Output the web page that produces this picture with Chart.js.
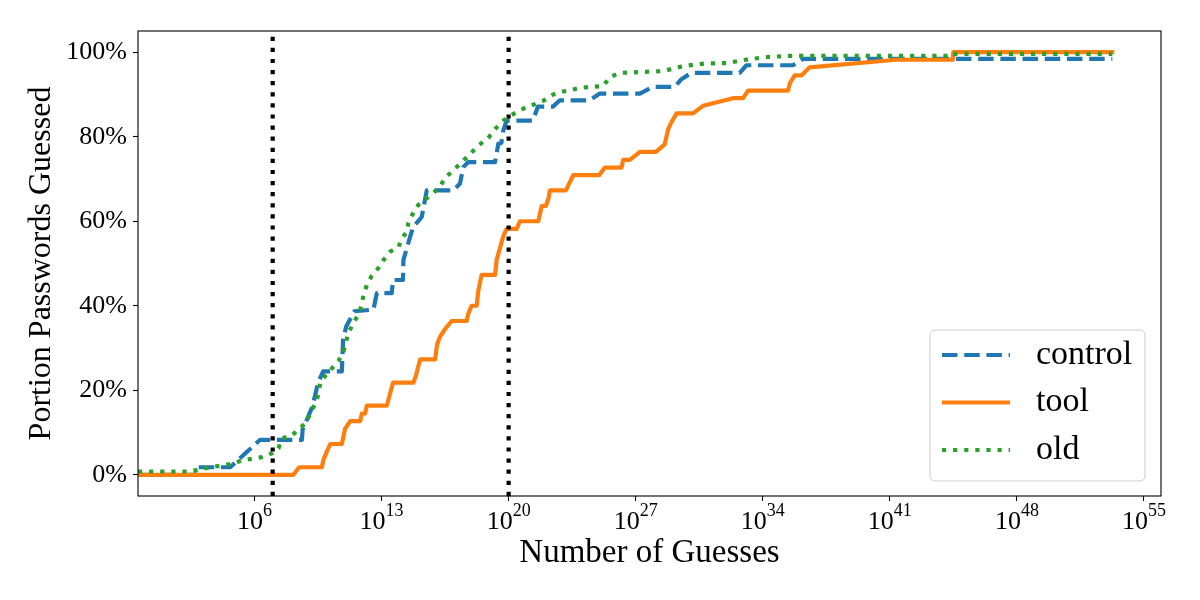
<!DOCTYPE html>
<html>
<head>
<meta charset="utf-8">
<script src="https://cdn.jsdelivr.net/npm/chart.js@4"></script>
<style>
  body { margin: 0; background: #fff; }
  #chart { display: block; }
</style>
</head>
<body>
<canvas id="chart" width="1200" height="600"></canvas>
<script>
// values: x as log10(guesses), y as percent guessed
const controlExp = [-0.42, 2.74, 2.85, 4.66, 6.31, 8.61, 8.65, 8.9, 9.2, 9.5, 9.78, 10.81, 10.88, 11.05, 11.5, 12.55, 12.74, 13.56, 13.63, 14.18, 14.2, 14.57, 14.75, 15.21, 15.49, 16.95, 17.32, 17.5, 17.78, 19.25, 19.43, 19.6, 19.7, 19.89, 21.34, 21.61, 22.44, 22.82, 24.47, 25.02, 27.23, 27.94, 29.15, 29.52, 30.07, 32.73, 33.1, 35.66, 36.21, 53.26];
const controlPct = [0, 0, 1.8, 1.8, 8.3, 8.3, 10.8, 13.2, 16.3, 21.8, 24.5, 24.5, 32.0, 35.1, 38.7, 39.1, 43.0, 43.0, 46.1, 46.1, 50.8, 56.3, 58.7, 61.0, 67.3, 67.3, 68.9, 72.8, 74.0, 74.0, 78.3, 78.5, 81.4, 83.8, 83.8, 87.1, 87.1, 88.6, 88.6, 90.2, 90.2, 91.8, 91.8, 93.6, 95.1, 95.1, 96.9, 96.9, 98.4, 98.4];

const toolExp = [-0.42, 8.13, 8.46, 9.71, 9.8, 9.98, 10.17, 10.81, 10.99, 11.27, 11.82, 11.91, 12.09, 12.19, 13.29, 13.4, 13.63, 14.75, 14.9, 15.12, 15.95, 16.06, 16.22, 16.5, 16.86, 17.69, 17.78, 17.96, 18.24, 18.33, 18.51, 19.25, 19.34, 19.7, 19.89, 20.44, 20.62, 21.63, 21.82, 22.05, 22.2, 22.27, 23.15, 23.56, 24.99, 25.3, 26.22, 26.31, 26.68, 27.23, 28.11, 28.6, 28.79, 28.99, 29.25, 30.16, 30.71, 32.36, 32.91, 33.19, 35.39, 35.5, 35.76, 36.13, 36.58, 41.35, 44.47, 44.5, 53.37];
const toolPct = [0, 0, 1.8, 1.8, 3.6, 5.5, 7.3, 7.3, 10.9, 12.7, 12.7, 14.5, 14.5, 16.4, 16.4, 18.2, 21.8, 21.8, 23.6, 27.3, 27.3, 30.9, 32.7, 34.5, 36.4, 36.4, 38.2, 40.0, 40.0, 43.6, 47.3, 47.3, 50.9, 56.4, 58.2, 58.2, 60.0, 60.0, 63.6, 63.6, 65.5, 67.3, 67.3, 70.9, 70.9, 72.7, 72.7, 74.5, 74.5, 76.4, 76.4, 78.2, 81.8, 83.6, 85.5, 85.5, 87.3, 89.1, 89.1, 90.9, 90.9, 92.7, 94.5, 94.5, 96.4, 98.2, 98.2, 100, 100];

const oldExp = [-0.42, 2.35, 2.92, 3.56, 4.76, 5.31, 6.41, 6.96, 7.32, 7.51, 8.06, 8.42, 8.88, 9.07, 9.34, 9.52, 9.62, 9.89, 10.62, 10.9, 11.17, 11.45, 11.72, 11.91, 12.0, 12.19, 12.46, 12.82, 13.1, 13.47, 13.93, 14.11, 14.39, 14.48, 14.75, 15.03, 15.39, 15.85, 16.22, 16.5, 16.86, 17.32, 17.69, 18.33, 18.88, 19.25, 19.89, 20.44, 20.9, 21.45, 21.91, 22.46, 23.01, 24.02, 25.21, 25.58, 26.13, 28.51, 29.06, 29.61, 30.8, 32.0, 32.64, 33.19, 34.38, 35.48, 44.38, 44.45, 53.26];
const oldPct = [0.8, 0.8, 1.2, 1.8, 2.6, 3.4, 4.2, 5.1, 6.3, 8.6, 9.3, 10.8, 12.4, 14.8, 16.7, 19.1, 21.8, 23.4, 26.9, 29.2, 33.6, 35.9, 37.9, 40.2, 42.6, 44.9, 47.1, 48.9, 50.8, 52.8, 53.8, 55.9, 57.5, 59.6, 62.0, 63.9, 65.1, 66.7, 68.1, 70.4, 71.6, 73.6, 75.1, 77.9, 79.7, 81.8, 84.5, 85.8, 86.8, 87.7, 88.5, 90.0, 90.7, 91.6, 92.0, 94.1, 95.1, 95.5, 96.1, 96.7, 97.3, 97.4, 97.9, 98.3, 98.9, 99.1, 99.1, 99.6, 99.6];

const markerExps = [7, 20];           // dotted vertical lines
const xTickExps = [6, 13, 20, 27, 34, 41, 48, 55];
const yTickPct = [0, 20, 40, 60, 80, 100];

const FONT = '"Liberation Serif", "DejaVu Serif", serif';
const LW = 4.2;
const DASHED = [15.5, 6.7];
const DOTTED = [4.2, 6.9];

function toPoints(exps, pcts) {
    return exps.map((e, i) => ({ x: 10 ** e, y: pcts[i] / 100 }));
}

const lineSets = [
    { label: 'control', data: toPoints(controlExp, controlPct), borderColor: '#1f77b4', borderDash: DASHED, order: 3 },
    { label: 'tool', data: toPoints(toolExp, toolPct), borderColor: '#ff7f0e', borderDash: [], order: 2 },
    { label: 'old', data: toPoints(oldExp, oldPct), borderColor: '#2ca02c', borderDash: DOTTED, order: 1 },
];

const markerSets = markerExps.map(e => ({
    label: 'marker',
    data: [{ x: 10 ** e, y: -0.05 }, { x: 10 ** e, y: 1.05 }],
    borderColor: '#000',
    borderDash: DOTTED,
    order: 0,
}));

const datasets = [...lineSets, ...markerSets].map(ds => Object.assign({
    borderWidth: LW,
    pointRadius: 0,
    tension: 0,
    fill: false,
    borderCapStyle: 'butt',
    borderJoinStyle: 'round',
}, ds));

// frame, superscript tick labels and the legend box
const extrasPlugin = {
    id: 'extras',
    afterDraw(chart) {
        const { ctx, chartArea: a, scales } = chart;
        ctx.save();
        ctx.strokeStyle = '#000';
        ctx.lineWidth = 1.1;
        ctx.strokeRect(a.left, a.top, a.right - a.left, a.bottom - a.top);

        ctx.fillStyle = '#000';
        ctx.textAlign = 'left';
        ctx.textBaseline = 'alphabetic';
        xTickExps.forEach(e => {
            const px = scales.x.getPixelForValue(10 ** e);
            const sup = String(e);
            ctx.font = '26px ' + FONT;
            const w1 = ctx.measureText('10').width;
            ctx.font = '18px ' + FONT;
            const w2 = ctx.measureText(sup).width;
            const x0 = px - (w1 + w2) / 2;
            ctx.font = '26px ' + FONT;
            ctx.fillText('10', x0, a.bottom + 33);
            ctx.font = '18px ' + FONT;
            ctx.fillText(sup, x0 + w1, a.bottom + 20);
        });

        const bw = 215, bh = 151;
        const bx = a.right - 16 - bw, by = a.bottom - 15 - bh;
        ctx.beginPath();
        ctx.roundRect(bx, by, bw, bh, 5);
        ctx.fillStyle = 'rgba(255,255,255,0.8)';
        ctx.fill();
        ctx.strokeStyle = '#cccccc';
        ctx.lineWidth = 1;
        ctx.stroke();

        lineSets.forEach((ds, i) => {
            const cy = by + 25 + i * 47.5;
            ctx.beginPath();
            ctx.setLineDash(ds.borderDash);
            ctx.strokeStyle = ds.borderColor;
            ctx.lineWidth = LW;
            ctx.lineCap = 'butt';
            ctx.moveTo(bx + 12, cy);
            ctx.lineTo(bx + 80, cy);
            ctx.stroke();
            ctx.setLineDash([]);
            ctx.fillStyle = '#000';
            ctx.font = '34px ' + FONT;
            ctx.textBaseline = 'middle';
            ctx.fillText(ds.label, bx + 106, cy);
        });
        ctx.restore();
    }
};

const tickGrid = { drawOnChartArea: false, tickLength: 5, tickWidth: 1.1, tickColor: '#000' };

new Chart(document.getElementById('chart'), {
    type: 'line',
    data: { datasets: datasets },
    options: {
        responsive: false,
        animation: false,
        layout: { padding: { top: 31, right: 39, left: 0, bottom: 0 } },
        scales: {
            x: {
                type: 'logarithmic',
                min: 10 ** -0.42,
                max: 10 ** 55.94,
                afterBuildTicks: s => { s.ticks = xTickExps.map(e => ({ value: 10 ** e })); },
                afterFit: s => { s.height = 104; },
                ticks: { display: false },
                grid: tickGrid,
                border: { display: false },
                title: {
                    display: true,
                    text: 'Number of Guesses',
                    color: '#000',
                    font: { family: FONT, size: 33 },
                    padding: { bottom: 27 }
                }
            },
            y: {
                min: -0.05,
                max: 1.05,
                afterBuildTicks: s => { s.ticks = yTickPct.map(v => ({ value: v / 100 })); },
                afterFit: s => { s.width = 138; },
                ticks: {
                    callback: v => Math.round(v * 100) + '%',
                    color: '#000',
                    font: { family: FONT, size: 26 },
                    padding: 6
                },
                grid: tickGrid,
                border: { display: false },
                title: {
                    display: true,
                    text: 'Portion Passwords Guessed',
                    color: '#000',
                    font: { family: FONT, size: 32 },
                    padding: { top: 22 }
                }
            }
        },
        plugins: {
            legend: { display: false },
            tooltip: { enabled: false }
        }
    },
    plugins: [extrasPlugin]
});
</script>
</body>
</html>
